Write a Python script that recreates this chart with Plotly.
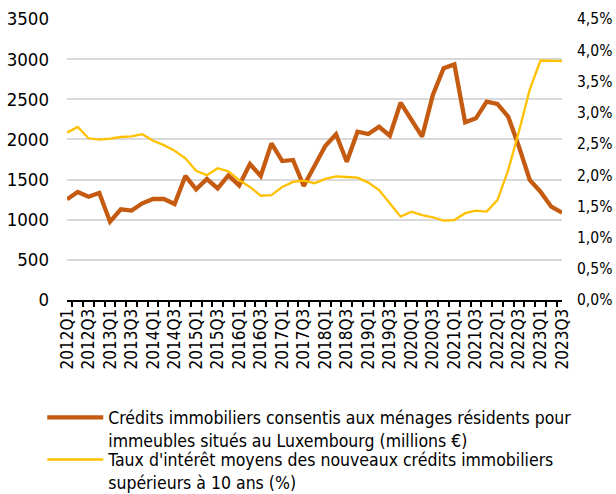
import plotly.graph_objects as go

quarters = [f"{y}Q{q}" for y in range(2012, 2024) for q in range(1, 5)][:47]

credits = [1254, 1345, 1287, 1333, 976, 1130, 1113, 1204, 1258, 1258, 1196, 1545,
           1379, 1507, 1391, 1553, 1428, 1694, 1545, 1951, 1731, 1744, 1420, 1669,
           1918, 2064, 1722, 2096, 2067, 2158, 2046, 2457, 2233, 2034, 2553, 2886,
           2935, 2213, 2263, 2470, 2441, 2283, 1910, 1495, 1349, 1162, 1088]

rates = [2.68, 2.77, 2.59, 2.57, 2.585, 2.61, 2.62, 2.655, 2.55, 2.48, 2.39, 2.27,
         2.07, 2.00, 2.11, 2.06, 1.92, 1.81, 1.67, 1.68, 1.81, 1.89, 1.91, 1.87,
         1.94, 1.98, 1.97, 1.96, 1.88, 1.76, 1.55, 1.335, 1.415, 1.36, 1.325, 1.27,
         1.28, 1.39, 1.43, 1.415, 1.60, 2.08, 2.70, 3.37, 3.835, 3.835, 3.825]

tick_text = [q if i % 2 == 0 else "" for i, q in enumerate(quarters)]

name_credits = "Crédits immobiliers consentis aux ménages résidents pour<br>immeubles situés au Luxembourg (millions €)"
name_rates = "Taux d'intérêt moyens des nouveaux crédits immobiliers<br>supérieurs à 10 ans (%)"

FONT = "DejaVu Sans Condensed, Liberation Sans, Arial, sans-serif"

fig = go.Figure()
fig.add_trace(go.Scatter(x=quarters, y=credits, mode="lines", name=name_credits,
                         line=dict(color="#C55A11", width=4.3), yaxis="y",
                         legend="legend"))
fig.add_trace(go.Scatter(x=quarters, y=rates, mode="lines", name=name_rates,
                         line=dict(color="#FFC000", width=2.3), yaxis="y2",
                         legend="legend2"))

legend_common = dict(xanchor="left", yanchor="top", orientation="v", valign="top",
                     itemwidth=56, font=dict(family=FONT, size=17.5, color="#000000"),
                     bgcolor="rgba(0,0,0,0)", borderwidth=0)

fig.update_layout(
    width=616, height=494,
    margin=dict(l=67, r=54, t=19, b=194, autoexpand=False),
    paper_bgcolor="white", plot_bgcolor="white",
    separators=", ",
    font=dict(family=FONT, size=17, color="#000000"),
    showlegend=True,
    legend=dict(x=-0.05, y=-0.354, **legend_common),
    legend2=dict(x=-0.05, y=-0.504, **legend_common),
    xaxis=dict(type="category", tickmode="array", tickvals=quarters, ticktext=tick_text,
               tickangle=-90, tickson="boundaries", ticks="outside", ticklen=5,
               tickwidth=1.5, tickcolor="black", showline=True, linecolor="black",
               linewidth=2, showgrid=False, zeroline=False, automargin=False,
               tickfont=dict(size=17)),
    yaxis=dict(range=[0, 3500], dtick=500, showgrid=True, gridcolor="#d9d9d9",
               gridwidth=1.5, zeroline=False, showline=False, ticks="",
               ticklabelstandoff=17, automargin=False, tickfont=dict(size=18.5)),
    yaxis2=dict(range=[0, 4.5], dtick=0.5, tickformat=".1f", ticksuffix="%",
                overlaying="y", side="right", showgrid=False, zeroline=False,
                showline=False, ticks="", ticklabelstandoff=14, automargin=False,
                tickfont=dict(size=15.5)),
)

fig.write_html(
    "out.html",
    config={"displayModeBar": False},
    post_script="document.body.style.margin='0';document.body.style.overflow='hidden';",
)
